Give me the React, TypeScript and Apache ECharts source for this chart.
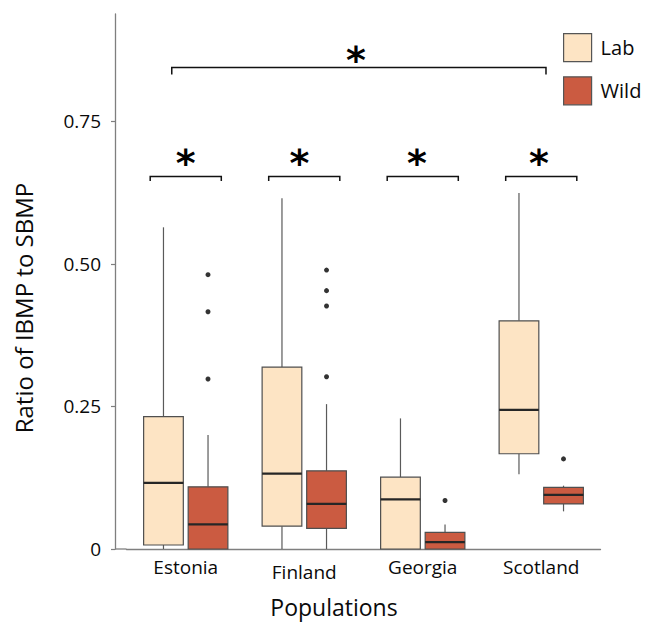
import React, { useEffect, useRef } from 'react';
import * as echarts from 'echarts';

// ---------- data ----------
const categories = ['Estonia', 'Finland', 'Georgia', 'Scotland'];
const yTickValues = [0, 0.25, 0.5, 0.75];

const labMin = [0, 0, 0, 0.131];
const labQ1 = [0.007, 0.04, 0, 0.167];
const labMedian = [0.116, 0.132, 0.087, 0.244];
const labQ3 = [0.232, 0.319, 0.126, 0.4];
const labMax = [0.564, 0.615, 0.229, 0.624];

const wildMin = [0, 0, 0, 0.066];
const wildQ1 = [0, 0.036, 0, 0.079];
const wildMedian = [0.043, 0.079, 0.012, 0.095];
const wildQ3 = [0.109, 0.137, 0.029, 0.108];
const wildMax = [0.2, 0.254, 0.043, 0.111];

const wildOutliers: number[][] = [
  [0.481, 0.416, 0.298],
  [0.489, 0.453, 0.426, 0.302],
  [0.085],
  [0.158],
];

// significance brackets: anchor category, level, start / end (in category units from anchor)
const bracketAnchor = [0, 1, 2, 3, 0];
const bracketLevel = [0.653, 0.653, 0.653, 0.653, 0.844];
const bracketFrom = [-0.3, -0.3, -0.3, -0.3, -0.118];
const bracketTo = [0.3, 0.3, 0.3, 0.3, 3.04];
const bracketLabel = ['*', '*', '*', '*', '*'];

// ---------- styles ----------
const FONT = "'Open Sans', 'DejaVu Sans', sans-serif";
const LAB_FILL = '#FDE4C4';
const WILD_FILL = '#CB5B41';
const BOX_BORDER = '#4f4f4f';
const WHISKER = '#5a5a5a';
const MEDIAN = '#262626';
const AXIS = '#7f7f7f';
const TEXT = '#0a0a0a';
const BOX_W = 0.335;
const BOX_OFF = 0.188;
const GRID_LEFT = 126.5;
const Y_OFFSET = 11.5;
const GRID_BOTTOM = 76;
const H = 625;
const STAR_SHIFT = [0, -0.04, -0.05, -0.02, -0.025];

function boxRender(offsetFrac: number, fill: string) {
  return (_p: any, api: any) => {
    const cat = api.value(0);
    const band = api.size([1, 0])[0];
    const cx = api.coord([cat, 0])[0] + offsetFrac * band;
    const w = BOX_W * band;
    const y = (i: number) => api.coord([cat, api.value(i)])[1];
    const yMin = y(1), yQ1 = y(2), yMed = y(3), yQ3 = y(4), yMax = y(5);
    const ws = { stroke: WHISKER, lineWidth: 1.2 };
    return {
      type: 'group',
      children: [
        { type: 'line', shape: { x1: cx, y1: yMax, x2: cx, y2: yQ3 }, style: ws },
        { type: 'line', shape: { x1: cx, y1: yQ1, x2: cx, y2: yMin }, style: ws },
        {
          type: 'rect',
          shape: { x: cx - w / 2, y: yQ3, width: w, height: yQ1 - yQ3 },
          style: { fill, stroke: BOX_BORDER, lineWidth: 1.2 },
        },
        {
          type: 'line',
          shape: { x1: cx - w / 2, y1: yMed, x2: cx + w / 2, y2: yMed },
          style: { stroke: MEDIAN, lineWidth: 2.2 },
        },
      ],
    };
  };
}

function outlierRender(offsetFrac: number) {
  return (_p: any, api: any) => {
    const cat = api.value(0);
    const band = api.size([1, 0])[0];
    const pt = api.coord([cat, api.value(1)]);
    return {
      type: 'circle',
      shape: { cx: pt[0] + offsetFrac * band, cy: pt[1], r: 2.5 },
      style: { fill: '#333333' },
    };
  };
}

function bracketRender(p: any, api: any) {
  const cat = api.value(0);
  const band = api.size([1, 0])[0];
  const pt = api.coord([cat, api.value(1)]);
  const x1 = pt[0] + api.value(2) * band;
  const x2 = pt[0] + api.value(3) * band;
  const yb = pt[1];
  const top = p.dataIndex === 4;
  const drop = top ? 7 : 4.5;
  const starGap = top ? 14 : 20;
  const st = { stroke: '#111', lineWidth: 1.5, fill: 'none' };
  return {
    type: 'group',
    children: [
      {
        type: 'polyline',
        shape: { points: [[x1, yb + drop], [x1, yb], [x2, yb], [x2, yb + drop]] },
        style: st,
      },
      {
        type: 'text',
        style: {
          text: bracketLabel[p.dataIndex],
          x: (x1 + x2) / 2 + STAR_SHIFT[p.dataIndex] * band,
          y: yb - starGap + 6,
          align: 'center',
          verticalAlign: 'middle',
          fontFamily: 'DejaVu Sans',
          fontWeight: 'bold',
          fontSize: 38,
          fill: '#000',
        },
      },
    ],
  };
}

export default function App() {
  const ref = useRef<HTMLDivElement>(null);

  useEffect(() => {
    const chart = echarts.init(ref.current!, null, { renderer: 'svg' });

    const labData = categories.map((_, i) => [i, labMin[i], labQ1[i], labMedian[i], labQ3[i], labMax[i]]);
    const wildData = categories.map((_, i) => [i, wildMin[i], wildQ1[i], wildMedian[i], wildQ3[i], wildMax[i]]);
    const wildOutData: number[][] = [];
    wildOutliers.forEach((arr, i) => arr.forEach((v) => wildOutData.push([i, v])));
    const bracketData = bracketAnchor.map((a, i) => [a, bracketLevel[i], bracketFrom[i], bracketTo[i]]);

    const axisY = H - GRID_BOTTOM;

    chart.setOption({
      animation: false,
      textStyle: { fontFamily: FONT },
      grid: { left: GRID_LEFT, right: 45.5, top: 14, bottom: GRID_BOTTOM },
      legend: {
        orient: 'vertical',
        left: 563,
        top: 33,
        padding: 0,
        itemWidth: 28,
        itemHeight: 28,
        itemGap: 14,
        icon: 'rect',
        selectedMode: false,
        itemStyle: { borderColor: '#555', borderWidth: 1.2 },
        textStyle: { fontSize: 20, color: TEXT, fontFamily: FONT, padding: [0, 0, 0, 4] },
        data: [
          { name: 'Lab', itemStyle: { color: LAB_FILL } },
          { name: 'Wild', itemStyle: { color: WILD_FILL } },
        ],
      },
      xAxis: {
        type: 'category',
        data: categories,
        axisLine: { lineStyle: { color: AXIS, width: 1.3 } },
        axisTick: { alignWithLabel: true, length: 4, lineStyle: { color: AXIS, width: 1.2 } },
        axisLabel: {
          interval: 0,
          fontSize: 19,
          color: TEXT,
          margin: 8,
          fontFamily: FONT,
          formatter: (v: string) => (v === 'Finland' ? '{low|' + v + '}' : v),
          rich: { low: { fontSize: 19, color: TEXT, fontFamily: FONT, padding: [5, 0, 0, 0] } },
        },
        splitLine: { show: false },
      },
      yAxis: {
        type: 'value',
        min: 0,
        max: 0.938,
        offset: Y_OFFSET,
        axisLine: { show: true, lineStyle: { color: AXIS, width: 1.3 } },
        axisTick: { show: true, length: 4, customValues: yTickValues, lineStyle: { color: AXIS, width: 1.2 } },
        axisLabel: {
          customValues: yTickValues,
          fontSize: 19,
          color: TEXT,
          margin: 14,
          fontFamily: FONT,
          formatter: (v: number) => (v === 0 ? '0' : v.toFixed(2)),
        },
        splitLine: { show: false },
      },
      graphic: [
        {
          type: 'line',
          shape: { x1: GRID_LEFT - Y_OFFSET, y1: axisY, x2: GRID_LEFT, y2: axisY },
          style: { stroke: AXIS, lineWidth: 1.3 },
        },
        {
          type: 'text',
          x: 23,
          y: 308,
          rotation: Math.PI / 2,
          style: {
            text: 'Ratio of IBMP to SBMP',
            fontSize: 24,
            fontFamily: FONT,
            fill: TEXT,
            align: 'center',
            verticalAlign: 'middle',
          },
        },
        {
          type: 'text',
          x: 334,
          y: 607,
          style: {
            text: 'Populations',
            fontSize: 23,
            fontFamily: FONT,
            fill: TEXT,
            align: 'center',
            verticalAlign: 'middle',
          },
        },
      ],
      series: [
        {
          name: 'Lab',
          type: 'custom',
          itemStyle: { color: LAB_FILL },
          encode: { x: 0, y: [1, 2, 3, 4, 5] },
          renderItem: boxRender(-BOX_OFF, LAB_FILL),
          data: labData,
          z: 2,
        },
        {
          name: 'Wild',
          type: 'custom',
          itemStyle: { color: WILD_FILL },
          encode: { x: 0, y: [1, 2, 3, 4, 5] },
          renderItem: boxRender(BOX_OFF, WILD_FILL),
          data: wildData,
          z: 2,
        },
        {
          name: 'Wild outliers',
          type: 'custom',
          encode: { x: 0, y: 1 },
          renderItem: outlierRender(BOX_OFF),
          data: wildOutData,
          z: 3,
        },
        {
          name: 'Significance',
          type: 'custom',
          encode: { x: 0, y: 1 },
          renderItem: bracketRender,
          data: bracketData,
          clip: false,
          z: 3,
        },
      ],
    });

    return () => chart.dispose();
  }, []);

  return <div ref={ref} style={{ position: 'absolute', left: 0, top: 0, width: 646, height: 625 }} />;
}
